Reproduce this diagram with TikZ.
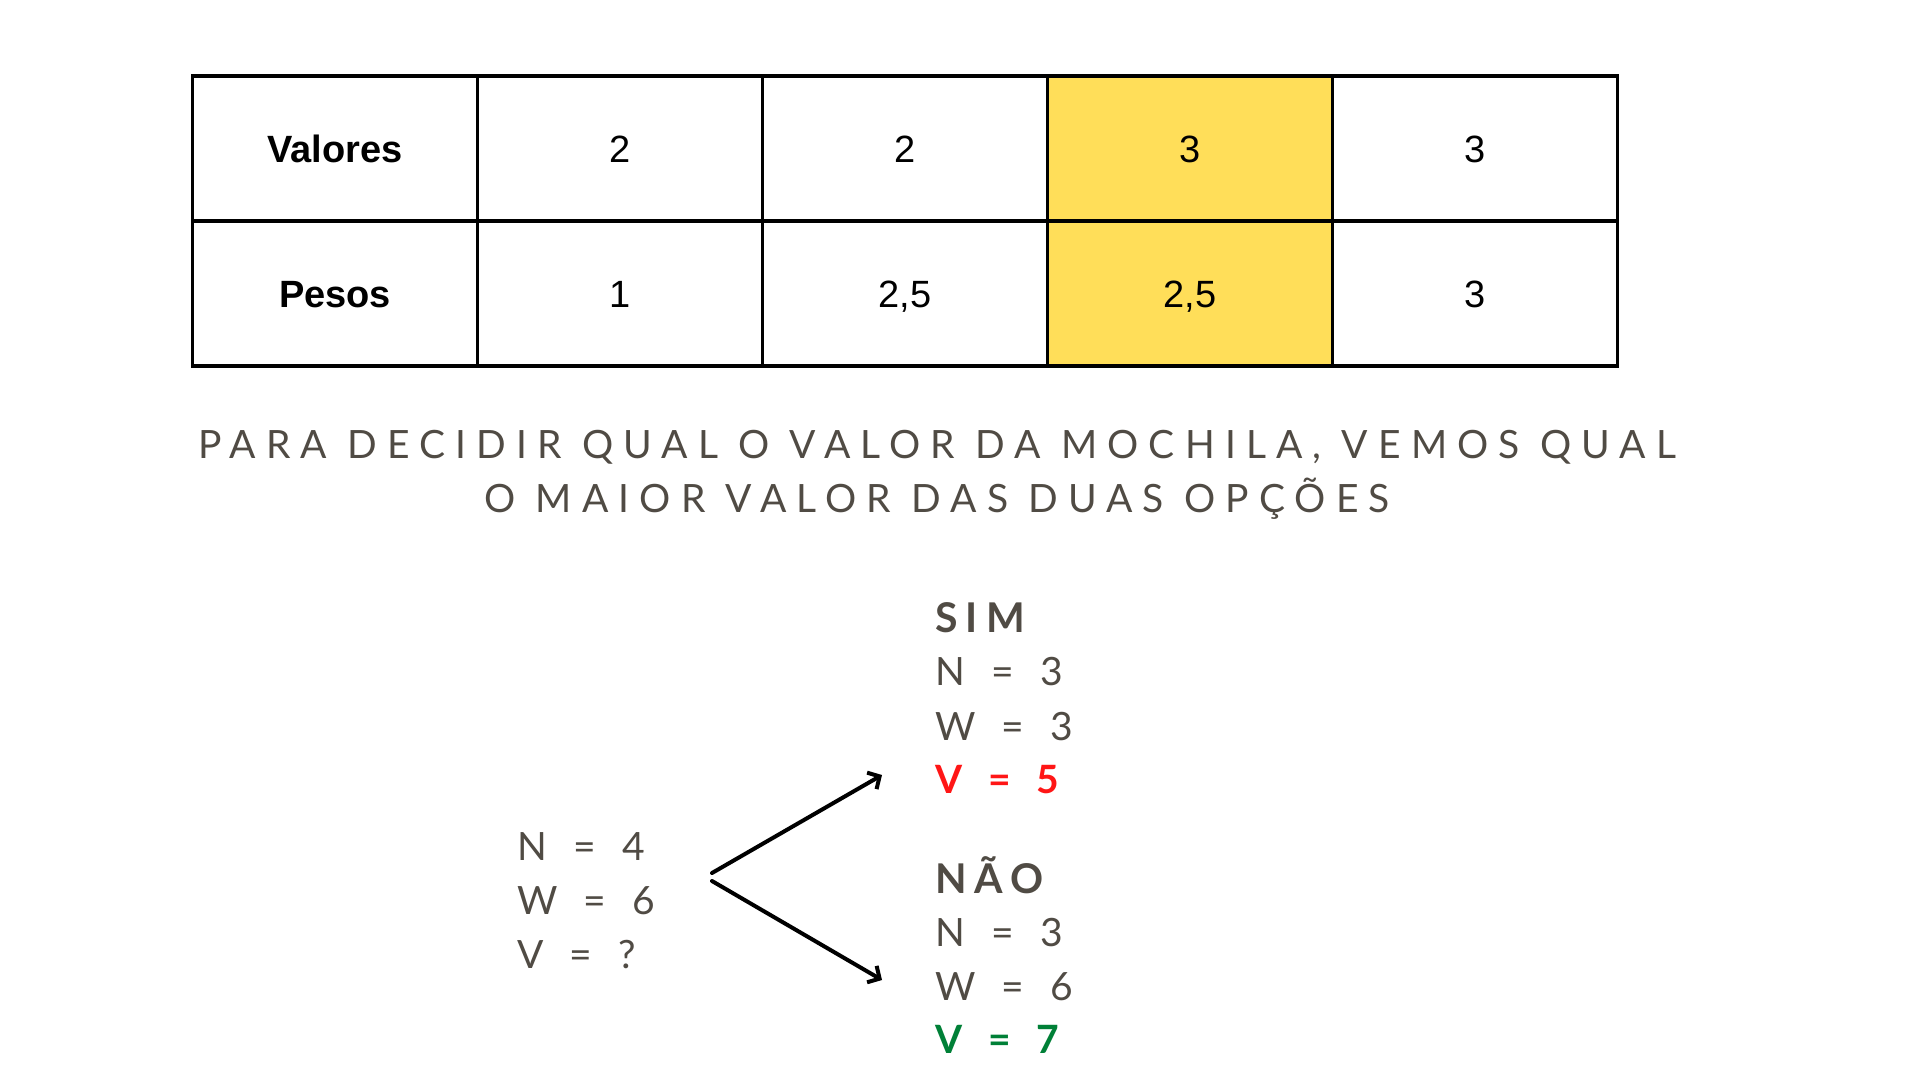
\documentclass[tikz,border=0pt]{standalone}
\usepackage{fontspec}
\usepackage{xcolor}
\usetikzlibrary{arrows.meta}
\setmainfont{Liberation Sans}
\newfontfamily\headfont[LetterSpace=20]{Lato}
\newfontfamily\titlefont[LetterSpace=26]{Lato}
\newfontfamily\spacedfont[LetterSpace=42]{Lato}
\definecolor{knapgray}{RGB}{80,75,68}
\definecolor{knapyellow}{RGB}{255,222,89}
\definecolor{knapred}{RGB}{255,22,22}
\definecolor{knapgreen}{RGB}{0,128,55}

\begin{document}
\begin{tikzpicture}[x=1pt, y=-1pt]
  \tikzstyle{mycell}=[draw=black, line width=3.3pt, minimum width=285pt,
    minimum height=145pt, inner sep=0pt, text height=27pt, text depth=0pt,
    font=\fontsize{38}{44}\selectfont];
  \tikzstyle{myhead}=[mycell, font=\fontsize{38}{44}\selectfont\bfseries];
  \tikzstyle{mypick}=[mycell, fill=knapyellow];
  \tikzstyle{mytext}=[inner sep=0pt, anchor=base west, text=knapgray,
    font=\spacedfont\fontsize{39}{54}\selectfont];
  \tikzstyle{mytitle}=[mytext, anchor=base, font=\titlefont\fontsize{39}{54}\selectfont];
  \tikzstyle{myhead2}=[mytext, font=\headfont\fontsize{41}{54}\selectfont\bfseries];
  \tikzstyle{mybold}=[mytext, font=\spacedfont\fontsize{39}{54}\selectfont\bfseries];
  \tikzstyle{myconn}=[line width=4pt, line cap=round, line join=round, ->,
    >={Straight Barb[length=9pt, width=19pt]}];
  %
  \path[fill=white] (0, 0) rectangle (1920, 1080);
  \useasboundingbox (0, 0) rectangle (1920, 1080);
  %
  % table: valores
  \node[myhead] (val0) at (335, 148.5) {Valores};
  \node[mycell] (val1) at (620, 148.5) {2};
  \node[mycell] (val2) at (905, 148.5) {2};
  \node[mypick] (val3) at (1190, 148.5) {3};
  \node[mycell] (val4) at (1475, 148.5) {3};
  %
  % table: pesos
  \node[myhead] (pes0) at (335, 293.5) {Pesos};
  \node[mycell] (pes1) at (620, 293.5) {1};
  \node[mycell] (pes2) at (905, 293.5) {2,5};
  \node[mypick] (pes3) at (1190, 293.5) {2,5};
  \node[mycell] (pes4) at (1475, 293.5) {3};
  %
  % explanation
  \node[mytitle] (title1) at (937, 458)
    {PARA DECIDIR QUAL O VALOR DA MOCHILA, VEMOS QUAL};
  \node[mytitle] (title2) at (937, 512) {O MAIOR VALOR DAS DUAS OPÇÕES};
  %
  % current state
  \node[mytext] (n0) at (517, 860) {N = 4};
  \node[mytext] (w0) at (517, 914) {W = 6};
  \node[mytext] (v0) at (517, 968) {V = ?};
  %
  % option: sim
  \node[myhead2] (sim) at (935, 632) {SIM};
  \node[mytext] (nsim) at (935, 685) {N = 3};
  \node[mytext] (wsim) at (935, 740) {W = 3};
  \node[mybold, text=knapred] (vsim) at (935, 793) {V = 5};
  %
  % option: nao
  \node[myhead2] (nao) at (935, 893) {NÃO};
  \node[mytext] (nnao) at (935, 946) {N = 3};
  \node[mytext] (wnao) at (935, 1000) {W = 6};
  \node[mybold, text=knapgreen] (vnao) at (935, 1053) {V = 7};
  %
  % branches
  \coordinate (forksim) at (712, 873);
  \coordinate (forknao) at (712, 881);
  \coordinate (tipsim) at (882, 775);
  \coordinate (tipnao) at (882, 980);
  \draw[myconn] (forksim) -- (tipsim);
  \draw[myconn] (forknao) -- (tipnao);
\end{tikzpicture}
\end{document}
